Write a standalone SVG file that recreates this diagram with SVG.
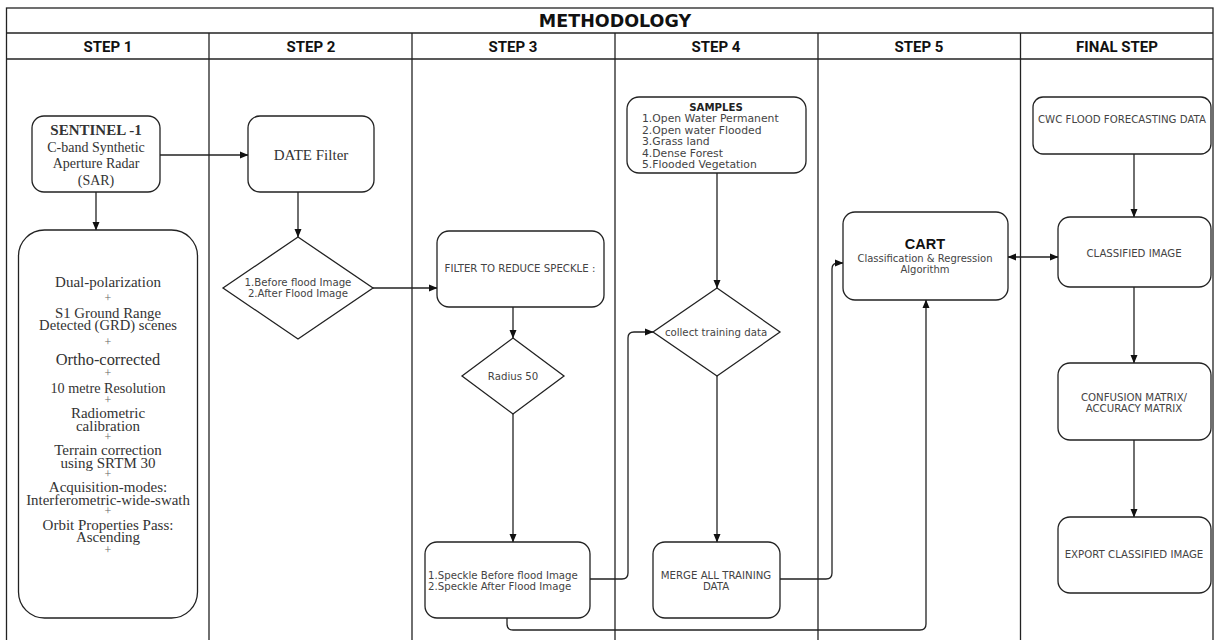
<svg xmlns="http://www.w3.org/2000/svg" width="1216" height="640" viewBox="0 0 1216 640">
<style>
.frame{fill:none;stroke:#222;stroke-width:1.3}
.box{fill:#fff;stroke:#222;stroke-width:1.3}
.conn{fill:none;stroke:#222;stroke-width:1.3}
.hdr{font-family:Roboto,"Liberation Sans",sans-serif;font-weight:bold;font-size:15px;fill:#111;text-anchor:middle}
.title{font-family:"DejaVu Sans",sans-serif;font-weight:bold;font-size:17.5px;fill:#111;text-anchor:middle}
.serif{font-family:"Liberation Serif","Times New Roman",serif;fill:#333;text-anchor:middle}
.sans{font-family:"DejaVu Sans",Verdana,sans-serif;font-size:10.2px;fill:#444;text-anchor:middle}
.start{text-anchor:start}
.smp{font-size:10.8px}
.plus{font-family:"Liberation Serif",serif;font-size:12px;fill:#666;text-anchor:middle}
</style>
<defs>
<marker id="ah" markerUnits="userSpaceOnUse" markerWidth="9" markerHeight="8" refX="8" refY="4" orient="auto-start-reverse" viewBox="0 0 9 8">
<path d="M0,0.5 L8.5,4 L0,7.5 z" fill="#111"/>
</marker>
</defs>

<g id="frame">
<rect class="frame" x="6.5" y="8" width="1206.5" height="640"/>
<line class="frame" x1="6.5" y1="33" x2="1213" y2="33"/>
<line class="frame" x1="6.5" y1="59" x2="1213" y2="59"/>
<line class="frame" x1="209" y1="33" x2="209" y2="640"/>
<line class="frame" x1="412" y1="33" x2="412" y2="640"/>
<line class="frame" x1="615" y1="33" x2="615" y2="640"/>
<line class="frame" x1="818" y1="33" x2="818" y2="640"/>
<line class="frame" x1="1020.5" y1="33" x2="1020.5" y2="640"/>
<text class="title" x="615" y="27">METHODOLOGY</text>
<text class="hdr" x="108" y="51.5">STEP 1</text>
<text class="hdr" x="311" y="51.5">STEP 2</text>
<text class="hdr" x="513" y="51.5">STEP 3</text>
<text class="hdr" x="716" y="51.5">STEP 4</text>
<text class="hdr" x="919" y="51.5">STEP 5</text>
<text class="hdr" x="1117" y="51.5">FINAL STEP</text>
</g>

<g id="connectors">
<line class="conn" x1="160" y1="155" x2="248" y2="155" marker-end="url(#ah)"/>
<line class="conn" x1="96" y1="192" x2="96" y2="230" marker-end="url(#ah)"/>
<line class="conn" x1="298" y1="192" x2="298" y2="237" marker-end="url(#ah)"/>
<line class="conn" x1="373" y1="288" x2="437" y2="288" marker-end="url(#ah)"/>
<line class="conn" x1="513" y1="307" x2="513" y2="338" marker-end="url(#ah)"/>
<line class="conn" x1="513" y1="414" x2="513" y2="542" marker-end="url(#ah)"/>
<path class="conn" d="M590,579 H622 Q628,579 628,573 V338 Q628,332 634,332 H653" marker-end="url(#ah)"/>
<path class="conn" d="M507,618 V624 Q507,630 513,630 H920 Q926,630 926,624 V300" marker-end="url(#ah)"/>
<line class="conn" x1="717" y1="173" x2="717" y2="288" marker-end="url(#ah)"/>
<line class="conn" x1="717" y1="376" x2="717" y2="542" marker-end="url(#ah)"/>
<path class="conn" d="M780,579 H826 Q832,579 832,573 V269 Q832,263 838,263 H843" marker-end="url(#ah)"/>
<line class="conn" x1="1008" y1="257" x2="1058" y2="257" marker-start="url(#ah)" marker-end="url(#ah)"/>
<line class="conn" x1="1134" y1="154" x2="1134" y2="217" marker-end="url(#ah)"/>
<line class="conn" x1="1134" y1="287" x2="1134" y2="363" marker-end="url(#ah)"/>
<line class="conn" x1="1134" y1="440" x2="1134" y2="517" marker-end="url(#ah)"/>
</g>

<g id="sentinel">
<rect class="box" x="32" y="116" width="128" height="76" rx="12"/>
<text class="serif" x="96" y="135" font-size="15" font-weight="bold" fill="#222">SENTINEL -1</text>
<text class="serif" x="96" y="152" font-size="14">C-band Synthetic</text>
<text class="serif" x="96" y="168" font-size="14">Aperture Radar</text>
<text class="serif" x="96" y="185" font-size="14">(SAR)</text>
</g>

<g id="sar-details">
<rect class="box" x="18.5" y="230" width="179" height="388" rx="26"/>
<text class="serif" x="108" y="287" font-size="15">Dual-polarization</text>
<text class="plus" x="108" y="302">+</text>
<text class="serif" x="108" y="318" font-size="14.8">S1 Ground Range</text>
<text class="serif" x="108" y="330" font-size="14.6">Detected (GRD) scenes</text>
<text class="plus" x="108" y="346">+</text>
<text class="serif" x="108" y="365" font-size="16.4">Ortho-corrected</text>
<text class="plus" x="108" y="377">+</text>
<text class="serif" x="108" y="392.5" font-size="14.2">10 metre Resolution</text>
<text class="plus" x="108" y="404">+</text>
<text class="serif" x="108" y="418" font-size="15">Radiometric</text>
<text class="serif" x="108" y="430.5" font-size="15">calibration</text>
<text class="plus" x="108" y="441">+</text>
<text class="serif" x="108" y="455" font-size="15">Terrain correction</text>
<text class="serif" x="108" y="467.5" font-size="15">using SRTM 30</text>
<text class="plus" x="108" y="478">+</text>
<text class="serif" x="108" y="492" font-size="15">Acquisition-modes:</text>
<text class="serif" x="108" y="504.5" font-size="14.9">Interferometric-wide-swath</text>
<text class="plus" x="108" y="515">+</text>
<text class="serif" x="108" y="530" font-size="15">Orbit Properties Pass:</text>
<text class="serif" x="108" y="542" font-size="15">Ascending</text>
<text class="plus" x="108" y="554" fill="#aaa">+</text>
</g>

<g id="date-filter">
<rect class="box" x="248" y="116" width="126" height="76" rx="12"/>
<text class="serif" x="311" y="160" font-size="15">DATE Filter</text>
</g>

<g id="flood-images">
<polygon class="box" points="298,237 373,288 298,339 223,288"/>
<text class="sans" x="298" y="286">1.Before flood Image</text>
<text class="sans" x="298" y="297">2.After Flood Image</text>
</g>

<g id="speckle-filter">
<rect class="box" x="437" y="231" width="167" height="76" rx="12"/>
<text class="sans" x="520" y="272">FILTER TO REDUCE SPECKLE :</text>
</g>

<g id="radius">
<polygon class="box" points="513,338 564,376 513,414 462,376"/>
<text class="sans" x="513" y="380">Radius 50</text>
</g>

<g id="speckle-images">
<rect class="box" x="425" y="542" width="165" height="76" rx="12"/>
<text class="sans start" x="428" y="579">1.Speckle Before flood Image</text>
<text class="sans start" x="428" y="590">2.Speckle After Flood Image</text>
</g>

<g id="samples">
<rect class="box" x="627" y="97" width="179" height="76" rx="12"/>
<text class="sans" x="716" y="111" font-weight="bold" style="fill:#222">SAMPLES</text>
<text class="sans start smp" x="642" y="122">1.Open Water Permanent</text>
<text class="sans start smp" x="642" y="133.5">2.Open water Flooded</text>
<text class="sans start smp" x="642" y="145">3.Grass land</text>
<text class="sans start smp" x="642" y="156.5">4.Dense Forest</text>
<text class="sans start smp" x="642" y="168">5.Flooded Vegetation</text>
</g>

<g id="collect">
<polygon class="box" points="717,288 780,332 717,376 653,332"/>
<text class="sans" x="716" y="336">collect training data</text>
</g>

<g id="merge">
<rect class="box" x="653" y="542" width="127" height="76" rx="12"/>
<text class="sans" x="716" y="579">MERGE ALL TRAINING</text>
<text class="sans" x="716" y="590">DATA</text>
</g>

<g id="cart">
<rect class="box" x="843" y="212" width="165" height="88" rx="12"/>
<text x="925" y="249" font-family="Liberation Sans,Arial,sans-serif" font-weight="bold" font-size="14.5" fill="#111" text-anchor="middle">CART</text>
<text class="sans" x="925" y="262" style="font-size:10px">Classification &amp; Regression</text>
<text class="sans" x="925" y="273" style="font-size:10px">Algorithm</text>
</g>

<g id="cwc">
<rect class="box" x="1033" y="97" width="178" height="57" rx="10"/>
<text class="sans" x="1122" y="123">CWC FLOOD FORECASTING DATA</text>
</g>

<g id="classified">
<rect class="box" x="1058" y="217" width="153" height="70" rx="12"/>
<text class="sans" x="1134" y="257">CLASSIFIED IMAGE</text>
</g>

<g id="confusion">
<rect class="box" x="1058" y="363" width="153" height="77" rx="12"/>
<text class="sans" x="1134" y="401">CONFUSION MATRIX/</text>
<text class="sans" x="1134" y="412">ACCURACY MATRIX</text>
</g>

<g id="export">
<rect class="box" x="1058" y="517" width="153" height="76" rx="12"/>
<text class="sans" x="1134" y="558">EXPORT CLASSIFIED IMAGE</text>
</g>
</svg>
